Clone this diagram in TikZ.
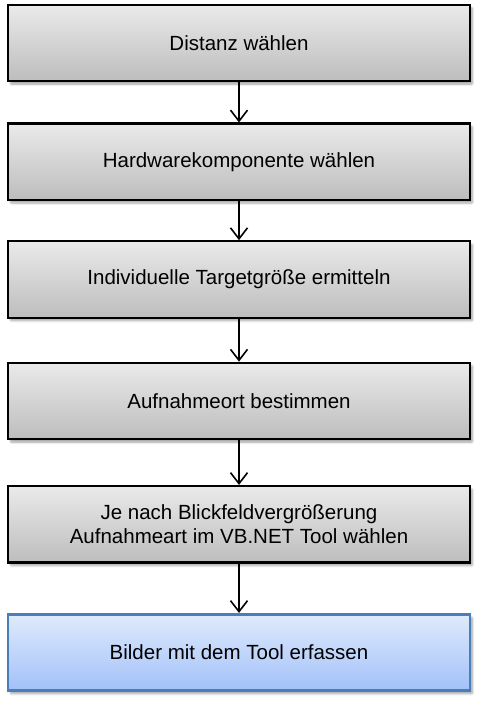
\documentclass[tikz,border=0pt]{standalone}
\usepackage{fontspec}
\setmainfont{Liberation Sans}
\usetikzlibrary{arrows.meta,shadows.blur}
\definecolor{gtop}{HTML}{EAEAEA}
\definecolor{gbot}{HTML}{BDBDBD}
\definecolor{btop}{HTML}{DFEAFD}
\definecolor{bbot}{HTML}{A2C1F8}
\definecolor{bdraw}{HTML}{4A7EBB}
\tikzset{
  stepbox/.style={draw=black, line width=2.2pt, minimum width=462pt, minimum height=76.5pt,
    top color=gtop, bottom color=gbot, align=center, inner sep=0pt,
    font=\fontsize{20.5pt}{24.6pt}\selectfont,
    blur shadow={shadow xshift=2.5pt, shadow yshift=-3pt, shadow blur steps=6, shadow opacity=35, shadow blur extra rounding=1pt}},
  lastbox/.style={stepbox, draw=bdraw, line width=2.6pt, top color=btop, bottom color=bbot},
  flow/.style={line width=1.6pt, -{Straight Barb[length=11pt,width=17pt,line width=1.6pt]}}
}
\begin{document}
\begin{tikzpicture}[x=1pt,y=1pt]
\useasboundingbox (0,0) rectangle (478,-702);
\node[stepbox] (a) at (239,-43) {Distanz wählen};
\node[stepbox] (b) at (239,-161.8) {Hardwarekomponente wählen};
\node[stepbox] (c) at (239,-279.5) {Individuelle Targetgröße ermitteln};
\node[stepbox] (d) at (239,-401) {Aufnahmeort bestimmen};
\node[stepbox] (e) at (239,-524.3) {Je nach Blickfeldvergrößerung\\Aufnahmeart im VB.NET Tool wählen};
\node[lastbox] (f) at (239,-652.5) {Bilder mit dem Tool erfassen};
\draw[flow] (a) -- (b);
\draw[flow] (b) -- (c);
\draw[flow] (c) -- (d);
\draw[flow] (d) -- (e);
\draw[flow] (e) -- (f);
\end{tikzpicture}
\end{document}
